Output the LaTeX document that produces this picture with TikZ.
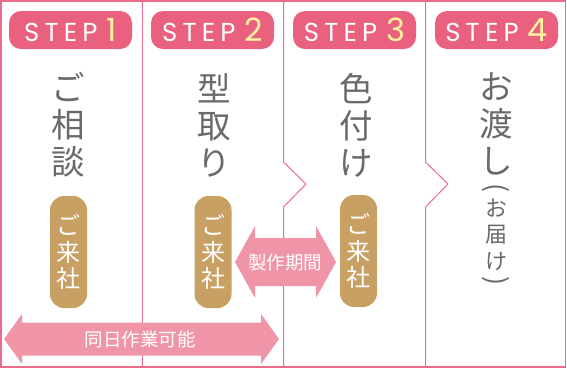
\documentclass[tikz,border=0pt]{standalone}
\usepackage{fontspec}
\usepackage{xcolor}
\newfontfamily\jpfont{Noto Sans CJK JP}
\newfontfamily\stepfont{Poppins}[LetterSpace=20]
\newfontfamily\numfont{Poppins}
\usetikzlibrary{positioning}

\definecolor{framepink}{HTML}{EC6A8C}
\definecolor{badgepink}{HTML}{E9617F}
\definecolor{numyellow}{HTML}{FFF3A0}
\definecolor{titlegray}{HTML}{6A6A6A}
\definecolor{visittan}{HTML}{C9A063}
\definecolor{arrowpink}{HTML}{F095A8}

\begin{document}
\begin{tikzpicture}[
  x=1pt, y=-1pt,
  every node/.style={inner sep=0pt},
  stepbadge/.style={fill=badgepink, rounded corners=12pt,
    minimum width=123pt, minimum height=38pt, text=white},
  title/.style={font=\jpfont\fontsize{33.5}{37}\selectfont, text=titlegray, align=center},
  subtitle/.style={font=\jpfont\fontsize{22}{22}\selectfont, text=titlegray},
  paren/.style={font=\jpfont\fontsize{27}{27}\selectfont, text=titlegray, rotate=-90},
  visit/.style={fill=visittan, rounded corners=14pt, minimum width=37pt,
    minimum height=112pt, text=white, align=center,
    font=\jpfont\fontsize{24}{26.5}\selectfont},
  arrowtext/.style={text=white, font=\jpfont\fontsize{18.5}{18.5}\selectfont},
  divider/.style={draw=framepink, line width=1pt},
]
\useasboundingbox (0,0) rectangle (567,368);

% Frame and column dividers
\draw[divider, line width=1.2pt] (1,1) rectangle (565.5,367);
\draw[divider] (142.7,1) -- (142.7,367);
\draw[divider] (283.5,1) -- (283.5,162) -- (306,184) -- (283.5,207) -- (283.5,367);
\draw[divider] (425.5,1) -- (425.5,162) -- (448,184) -- (425.5,207) -- (425.5,367);

% Step badges
\node[stepbadge] (step1) at (70.5,30) {{\stepfont\fontsize{26}{26}\selectfont STEP}\hspace{9pt}{\numfont\fontsize{32}{32}\selectfont\color{numyellow}1}};
\node[stepbadge] (step2) at (212.5,30) {{\stepfont\fontsize{26}{26}\selectfont STEP}\hspace{9pt}{\numfont\fontsize{32}{32}\selectfont\color{numyellow}2}};
\node[stepbadge] (step3) at (354.5,30) {{\stepfont\fontsize{26}{26}\selectfont STEP}\hspace{9pt}{\numfont\fontsize{32}{32}\selectfont\color{numyellow}3}};
\node[stepbadge] (step4) at (496.5,30) {{\stepfont\fontsize{26}{26}\selectfont STEP}\hspace{9pt}{\numfont\fontsize{32}{32}\selectfont\color{numyellow}4}};

% Step titles
\node[title] (consult) at (68,125) {ご\\相\\談};
\node[title] (mould) at (214,125) {型\\取\\り};
\node[title] (colour) at (356,125) {色\\付\\け};
\node[title] (handover) at (496,124) {お\\渡\\し};

% Delivery note
\node[paren] (parenL) at (496,188) {(};
\node[subtitle] (delivA) at (496,208) {お};
\node[subtitle] (delivB) at (496,235) {届};
\node[subtitle] (delivC) at (496,262) {け};
\node[paren] (parenR) at (496,281) {)};

% Visit pills
\node[visit] (visit1) at (68.5,252) {ご\\来\\社};
\node[visit] (visit2) at (213,252) {ご\\来\\社};
\node[visit] (visit3) at (358.5,251) {ご\\来\\社};

% Same-day arrow
\fill[arrowpink] (4,339) -- (22,314) -- (22,322.5) -- (261,322.5) -- (261,314)
  -- (279,339) -- (261,364) -- (261,355.5) -- (22,355.5) -- (22,364) -- cycle;
\node[arrowtext] (sameday) at (140,339) {同日作業可能};

% Production arrow
\fill[arrowpink] (235,262) -- (255,226) -- (255,238) -- (316,238) -- (316,226)
  -- (336,262) -- (316,298) -- (316,286) -- (255,286) -- (255,298) -- cycle;
\node[arrowtext] (period) at (285,262) {製作期間};
\end{tikzpicture}
\end{document}
